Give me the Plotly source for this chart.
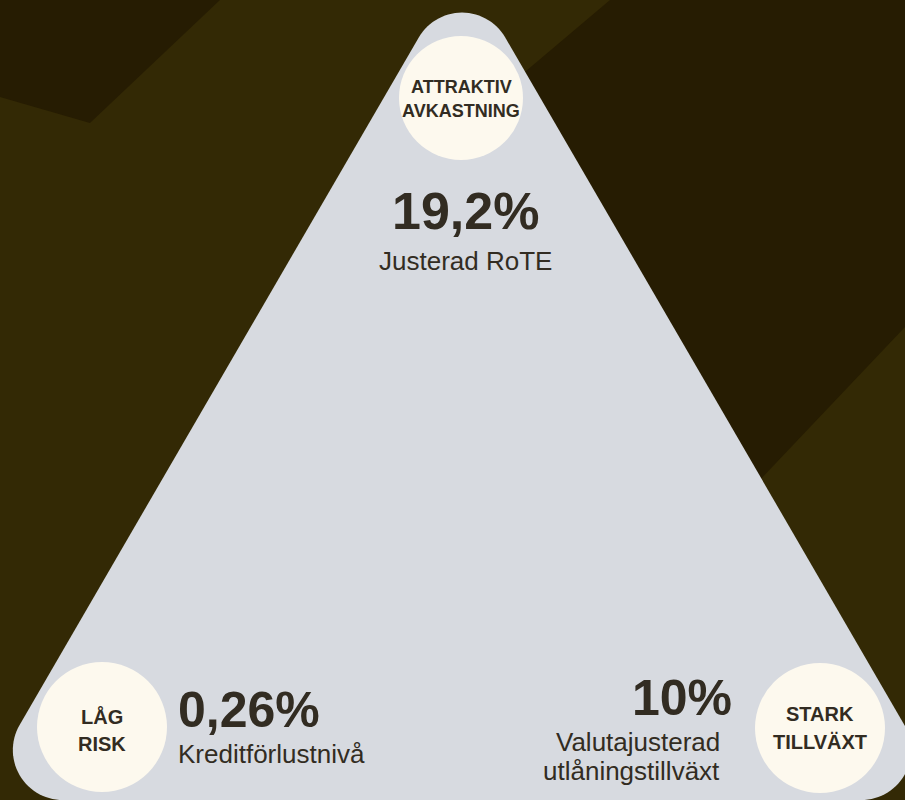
import numpy as np
import plotly.graph_objects as go

# ---- data (text content of the infographic) ----
pillar_labels = [["ATTRAKTIV", "AVKASTNING"], ["LÅG", "RISK"], ["STARK", "TILLVÄXT"]]
kpi_values = ["19,2%", "0,26%", "10%"]
kpi_labels = [["Justerad RoTE"], ["Kreditförlustnivå"], ["Valutajusterad", "utlåningstillväxt"]]

# ---- layout (positions / styles) ----
W, H = 905, 800
BG = "#332905"
BG_DARK = "#261c02"
TRI = "#d7dae0"
CREAM = "#fdf9ee"
TXT = "#322c22"
FONT = "Arial, 'Liberation Sans', sans-serif"

circles = [(461, 98, 62), (102, 727, 65), (820, 728, 65)]
pillar_pos = [(461, [87, 111], 18), (102, [716, 744], 20), (820, [714, 742], 20)]
value_pos = [(465, 211, "center", 52), (176, 710, "left", 50), (734, 698, "right", 50)]
label_pos = [(465, [261], "center"), (176, [754], "left"), (722, [742, 771], "right")]


def rounded_path(verts, r, n=30):
    verts = [np.array(v, dtype=float) for v in verts]
    N = len(verts)
    pts = []
    for i in range(N):
        p = verts[i]
        a = verts[i - 1]
        b = verts[(i + 1) % N]
        u = (a - p) / np.linalg.norm(a - p)
        v = (b - p) / np.linalg.norm(b - p)
        ang = np.arccos(np.clip(np.dot(u, v), -1, 1))
        d = r / np.tan(ang / 2)
        t1 = p + u * d
        t2 = p + v * d
        bis = (u + v) / np.linalg.norm(u + v)
        c = p + bis * (r / np.sin(ang / 2))
        a1 = np.arctan2(*(t1 - c)[::-1])
        a2 = np.arctan2(*(t2 - c)[::-1])
        da = (a2 - a1 + np.pi) % (2 * np.pi) - np.pi
        for k in range(n + 1):
            th = a1 + da * k / n
            pts.append((c[0] + r * np.cos(th), c[1] + r * np.sin(th)))
    s = "M " + " L ".join(f"{x:.2f},{y:.2f}" for x, y in pts) + " Z"
    return s


def poly_path(pts):
    return "M " + " L ".join(f"{x},{y}" for x, y in pts) + " Z"


shapes = []
# background facets
shapes.append(dict(type="path", path=poly_path([(0, 0), (220, 0), (90, 123), (0, 97)]),
                   fillcolor=BG_DARK, line=dict(width=0), layer="below"))
shapes.append(dict(type="path",
                   path=poly_path([(610, 0), (905, 0), (905, 327), (740, 501), (650, 520), (430, 152)]),
                   fillcolor=BG_DARK, line=dict(width=0), layer="below"))
# rounded triangle
tri_verts = [(462, -37), (948, 800), (-24, 800)]
shapes.append(dict(type="path", path=rounded_path(tri_verts, 50),
                   fillcolor=TRI, line=dict(width=0), layer="below"))
# circles
for cx, cy, r in circles:
    shapes.append(dict(type="circle", x0=cx - r, x1=cx + r, y0=cy - r, y1=cy + r,
                       fillcolor=CREAM, line=dict(width=0), layer="below"))

annotations = []
for lines, (x, ys, size) in zip(pillar_labels, pillar_pos):
    for line, y in zip(lines, ys):
        annotations.append(dict(x=x, y=y, text=f"<b>{line}</b>", showarrow=False,
                                xanchor="center", yanchor="middle",
                                font=dict(family=FONT, size=size, color=TXT)))
for val, (x, y, anchor, size) in zip(kpi_values, value_pos):
    annotations.append(dict(x=x, y=y, text=f"<b>{val}</b>", showarrow=False,
                            xanchor=anchor, yanchor="middle",
                            font=dict(family=FONT, size=size, color=TXT)))
for lines, (x, ys, anchor) in zip(kpi_labels, label_pos):
    for line, y in zip(lines, ys):
        annotations.append(dict(x=x, y=y, text=line, showarrow=False,
                                xanchor=anchor, yanchor="middle",
                                font=dict(family=FONT, size=26, color=TXT)))

fig = go.Figure()
fig.update_layout(
    width=W, height=H,
    margin=dict(l=0, r=0, t=0, b=0),
    paper_bgcolor=BG, plot_bgcolor=BG,
    xaxis=dict(range=[0, W], visible=False, fixedrange=True),
    yaxis=dict(range=[H, 0], visible=False, fixedrange=True),
    shapes=shapes, annotations=annotations, showlegend=False,
)
fig.write_html(
    "out.html",
    config={"displayModeBar": False},
    post_script="document.body.style.margin='0';document.body.style.padding='0';"
                "document.body.style.overflow='hidden';document.body.style.background='" + BG + "';",
)
